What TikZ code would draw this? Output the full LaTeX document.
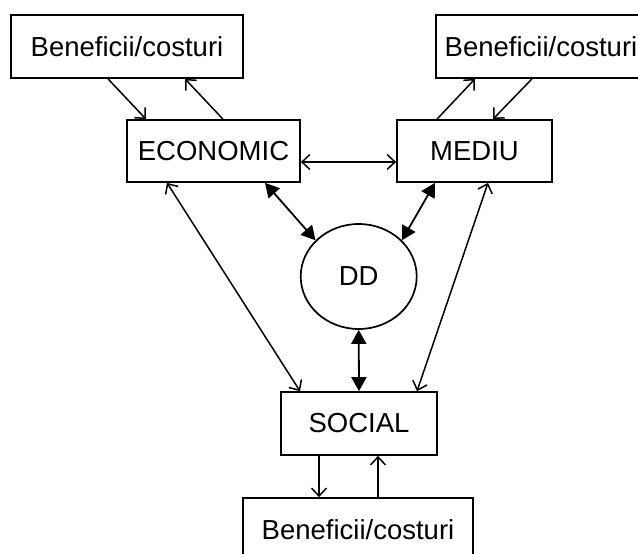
\documentclass[tikz,border=0pt]{standalone}
\usepackage{fontspec}
\setmainfont{Liberation Sans}
\usetikzlibrary{shapes.geometric,arrows.meta,calc}
\begin{document}
\begin{tikzpicture}[x=1pt,y=-1pt,
  boxnode/.style={draw,line width=1.7pt,rectangle,inner sep=0pt,font=\fontsize{27.5}{33}\selectfont},
  oa/.style={line width=1.5pt,-{Straight Barb[length=8pt,width=15pt,line width=1.5pt]}},
  oab/.style={line width=1.5pt,{Straight Barb[length=8pt,width=15pt,line width=1.5pt]}-{Straight Barb[length=8pt,width=15pt,line width=1.5pt]}},
  fab/.style={line width=1.8pt,{Triangle[length=14pt,width=15pt]}-{Triangle[length=14pt,width=15pt]}}]
\useasboundingbox (0,0) rectangle (638,554);
\node[boxnode,minimum width=232pt,minimum height=63pt] (bc1) at (127,46.5) {Beneficii/costuri};
\node[boxnode,minimum width=210pt,minimum height=63pt] (bc2) at (541,46.5) {Beneficii/costuri};
\node[boxnode,minimum width=173pt,minimum height=62pt] (eco) at (213.5,151) {ECONOMIC};
\node[boxnode,minimum width=155pt,minimum height=62pt] (mediu) at (474.5,151) {MEDIU};
\node[boxnode,ellipse,minimum width=116pt,minimum height=105pt] (dd) at (358.7,276.5) {DD};
\node[boxnode,minimum width=156pt,minimum height=63pt] (social) at (359,423.5) {SOCIAL};
\node[boxnode,minimum width=230pt,minimum height=63pt] (bc3) at (358,529.5) {Beneficii/costuri};
\draw[oa] ([xshift=-19pt]bc1.south) -- ([xshift=-67.5pt]eco.north);
\draw[oa] ([xshift=9.5pt]eco.north) -- ([xshift=58pt]bc1.south);
\draw[oa] ([xshift=-37.5pt]mediu.north) -- ([xshift=-66pt]bc2.south);
\draw[oa] ([xshift=-9pt]bc2.south) -- ([xshift=18.5pt]mediu.north);
\draw[oab] ([yshift=-11pt]eco.east) -- ([yshift=-11pt]mediu.west);
\draw[fab] ([xshift=51.5pt]eco.south) -- (dd.140);
\draw[fab] ([xshift=-39.5pt]mediu.south) -- (dd.40);
\draw[oab] ([xshift=-46.5pt]eco.south) -- ([xshift=-59pt]social.north);
\draw[oab] ([xshift=13.5pt]mediu.south) -- ([xshift=58pt]social.north);
\draw[fab] (dd.south) -- (social.north);
\draw[oa] ([xshift=-40pt]social.south) -- ([xshift=-40pt]social.south |- bc3.north);
\draw[oa] ([xshift=19pt]social.south |- bc3.north) -- ([xshift=19pt]social.south);
\end{tikzpicture}
\end{document}
